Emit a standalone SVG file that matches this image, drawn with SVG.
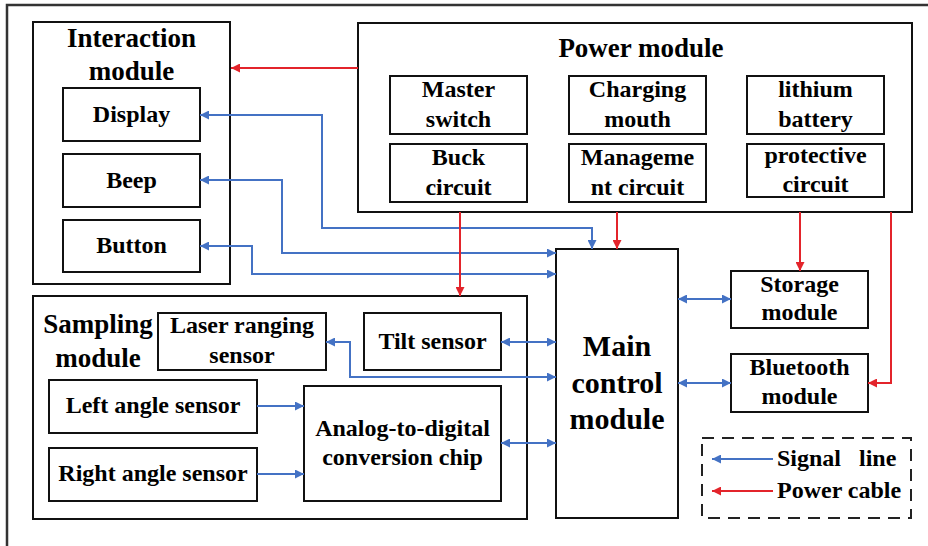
<svg xmlns="http://www.w3.org/2000/svg" width="928" height="546" viewBox="0 0 928 546">
<defs>
<marker id="ab" viewBox="0 0 10 10" refX="10" refY="5" markerWidth="11" markerHeight="9" markerUnits="userSpaceOnUse" orient="auto-start-reverse"><path d="M0,0 L10,5 L0,10 z" fill="#4472C4"/></marker>
<marker id="ar" viewBox="0 0 10 10" refX="10" refY="5" markerWidth="11" markerHeight="9" markerUnits="userSpaceOnUse" orient="auto-start-reverse"><path d="M0,0 L10,5 L0,10 z" fill="#E3242B"/></marker>
<style>
.box{fill:#fff;stroke:#111;stroke-width:2}
.t{font-family:"Liberation Serif","Times New Roman",serif;font-weight:bold;fill:#000;text-anchor:middle}
.ttl{font-size:27px}
.in{font-size:24px}
.big{font-size:30px}
.sig{fill:none;stroke:#4472C4;stroke-width:2}
.pwr{fill:none;stroke:#E3242B;stroke-width:2}
</style>
</defs>
<rect x="7" y="5" width="940" height="570" fill="#fff" stroke="#333" stroke-width="2.5"/>

<g id="interaction">
<rect class="box" x="33" y="22" width="197" height="262"/>
<text class="t ttl" x="131.5" y="47">Interaction</text>
<text class="t ttl" x="131.5" y="80">module</text>
</g>
<g id="display"><rect class="box" x="63" y="88" width="137" height="53"/><text class="t in" x="131.5" y="122">Display</text></g>
<g id="beep"><rect class="box" x="63" y="154" width="137" height="53"/><text class="t in" x="131.5" y="188">Beep</text></g>
<g id="button"><rect class="box" x="63" y="220" width="137" height="52"/><text class="t in" x="131.5" y="253">Button</text></g>

<g id="power">
<rect class="box" x="358" y="23" width="554" height="189"/>
<text class="t ttl" x="641" y="57">Power module</text>
</g>
<g id="master"><rect class="box" x="390" y="76" width="137" height="58"/><text class="t in" x="458.5" y="97">Master</text><text class="t in" x="458.5" y="127">switch</text></g>
<g id="charging"><rect class="box" x="569" y="76" width="137" height="58"/><text class="t in" x="637.5" y="97">Charging</text><text class="t in" x="637.5" y="127">mouth</text></g>
<g id="lithium"><rect class="box" x="747" y="76" width="137" height="58"/><text class="t in" x="815.5" y="97">lithium</text><text class="t in" x="815.5" y="127">battery</text></g>
<g id="buck"><rect class="box" x="390" y="144" width="137" height="58"/><text class="t in" x="458.5" y="165">Buck</text><text class="t in" x="458.5" y="195">circuit</text></g>
<g id="management"><rect class="box" x="569" y="144" width="137" height="58"/><text class="t in" x="637.5" y="165">Manageme</text><text class="t in" x="637.5" y="195">nt circuit</text></g>
<g id="protective"><rect class="box" x="747" y="144" width="137" height="53"/><text class="t in" x="815.5" y="163">protective</text><text class="t in" x="815.5" y="192">circuit</text></g>

<g id="sampling">
<rect class="box" x="33" y="296" width="494" height="223"/>
<text class="t ttl" x="98" y="333">Sampling</text>
<text class="t ttl" x="98" y="367">module</text>
</g>
<g id="laser"><rect class="box" x="158" y="313" width="168" height="57"/><text class="t in" x="242" y="333">Laser ranging</text><text class="t in" x="242" y="363">sensor</text></g>
<g id="tilt"><rect class="box" x="364" y="313" width="137" height="57"/><text class="t in" x="432.5" y="349">Tilt sensor</text></g>
<g id="left"><rect class="box" x="49" y="380" width="208" height="53"/><text class="t in" x="153" y="413">Left angle sensor</text></g>
<g id="right"><rect class="box" x="49" y="448" width="208" height="53"/><text class="t in" x="153" y="481">Right angle sensor</text></g>
<g id="adc"><rect class="box" x="304" y="386" width="197" height="115"/><text class="t in" x="402.5" y="436">Analog-to-digital</text><text class="t in" x="402.5" y="465">conversion chip</text></g>

<g id="main"><rect class="box" x="556" y="249" width="122" height="269"/>
<text class="t big" x="617" y="356">Main</text><text class="t big" x="617" y="393">control</text><text class="t big" x="617" y="429">module</text></g>
<g id="storage"><rect class="box" x="731" y="271" width="137" height="57"/><text class="t in" x="799.5" y="292">Storage</text><text class="t in" x="799.5" y="320">module</text></g>
<g id="bluetooth"><rect class="box" x="731" y="354" width="137" height="58"/><text class="t in" x="799.5" y="375">Bluetooth</text><text class="t in" x="799.5" y="404">module</text></g>

<g id="legend">
<rect x="702" y="438" width="209" height="80" fill="none" stroke="#222" stroke-width="2" stroke-dasharray="12,8"/>
<line class="sig" x1="773" y1="459" x2="712" y2="459" marker-end="url(#ab)"/>
<line class="pwr" x1="773" y1="491" x2="712" y2="491" marker-end="url(#ar)"/>
<text class="t in" x="777" y="466" style="text-anchor:start;white-space:pre" xml:space="preserve">Signal   line</text>
<text class="t in" x="777" y="498" style="text-anchor:start">Power cable</text>
</g>

<g id="connectors">
<path class="sig" d="M200,115 H322 V228 H592 V249" marker-start="url(#ab)" marker-end="url(#ab)"/>
<path class="sig" d="M200,180 H282 V253 H556" marker-start="url(#ab)" marker-end="url(#ab)"/>
<path class="sig" d="M200,246 H252 V274 H556" marker-start="url(#ab)" marker-end="url(#ab)"/>
<path class="sig" d="M326,342 H350 V377 H556" marker-start="url(#ab)" marker-end="url(#ab)"/>
<path class="sig" d="M501,342 H556" marker-start="url(#ab)" marker-end="url(#ab)"/>
<path class="sig" d="M501,443 H556" marker-start="url(#ab)" marker-end="url(#ab)"/>
<path class="sig" d="M257,406 H304" marker-end="url(#ab)"/>
<path class="sig" d="M257,474 H304" marker-end="url(#ab)"/>
<path class="sig" d="M678,299 H731" marker-start="url(#ab)" marker-end="url(#ab)"/>
<path class="sig" d="M678,383 H731" marker-start="url(#ab)" marker-end="url(#ab)"/>
<path class="pwr" d="M358,68 H231" marker-end="url(#ar)"/>
<path class="pwr" d="M460,212 V296" marker-end="url(#ar)"/>
<path class="pwr" d="M617,212 V249" marker-end="url(#ar)"/>
<path class="pwr" d="M800,212 V271" marker-end="url(#ar)"/>
<path class="pwr" d="M891,212 V383 H868" marker-end="url(#ar)"/>
</g>
</svg>
